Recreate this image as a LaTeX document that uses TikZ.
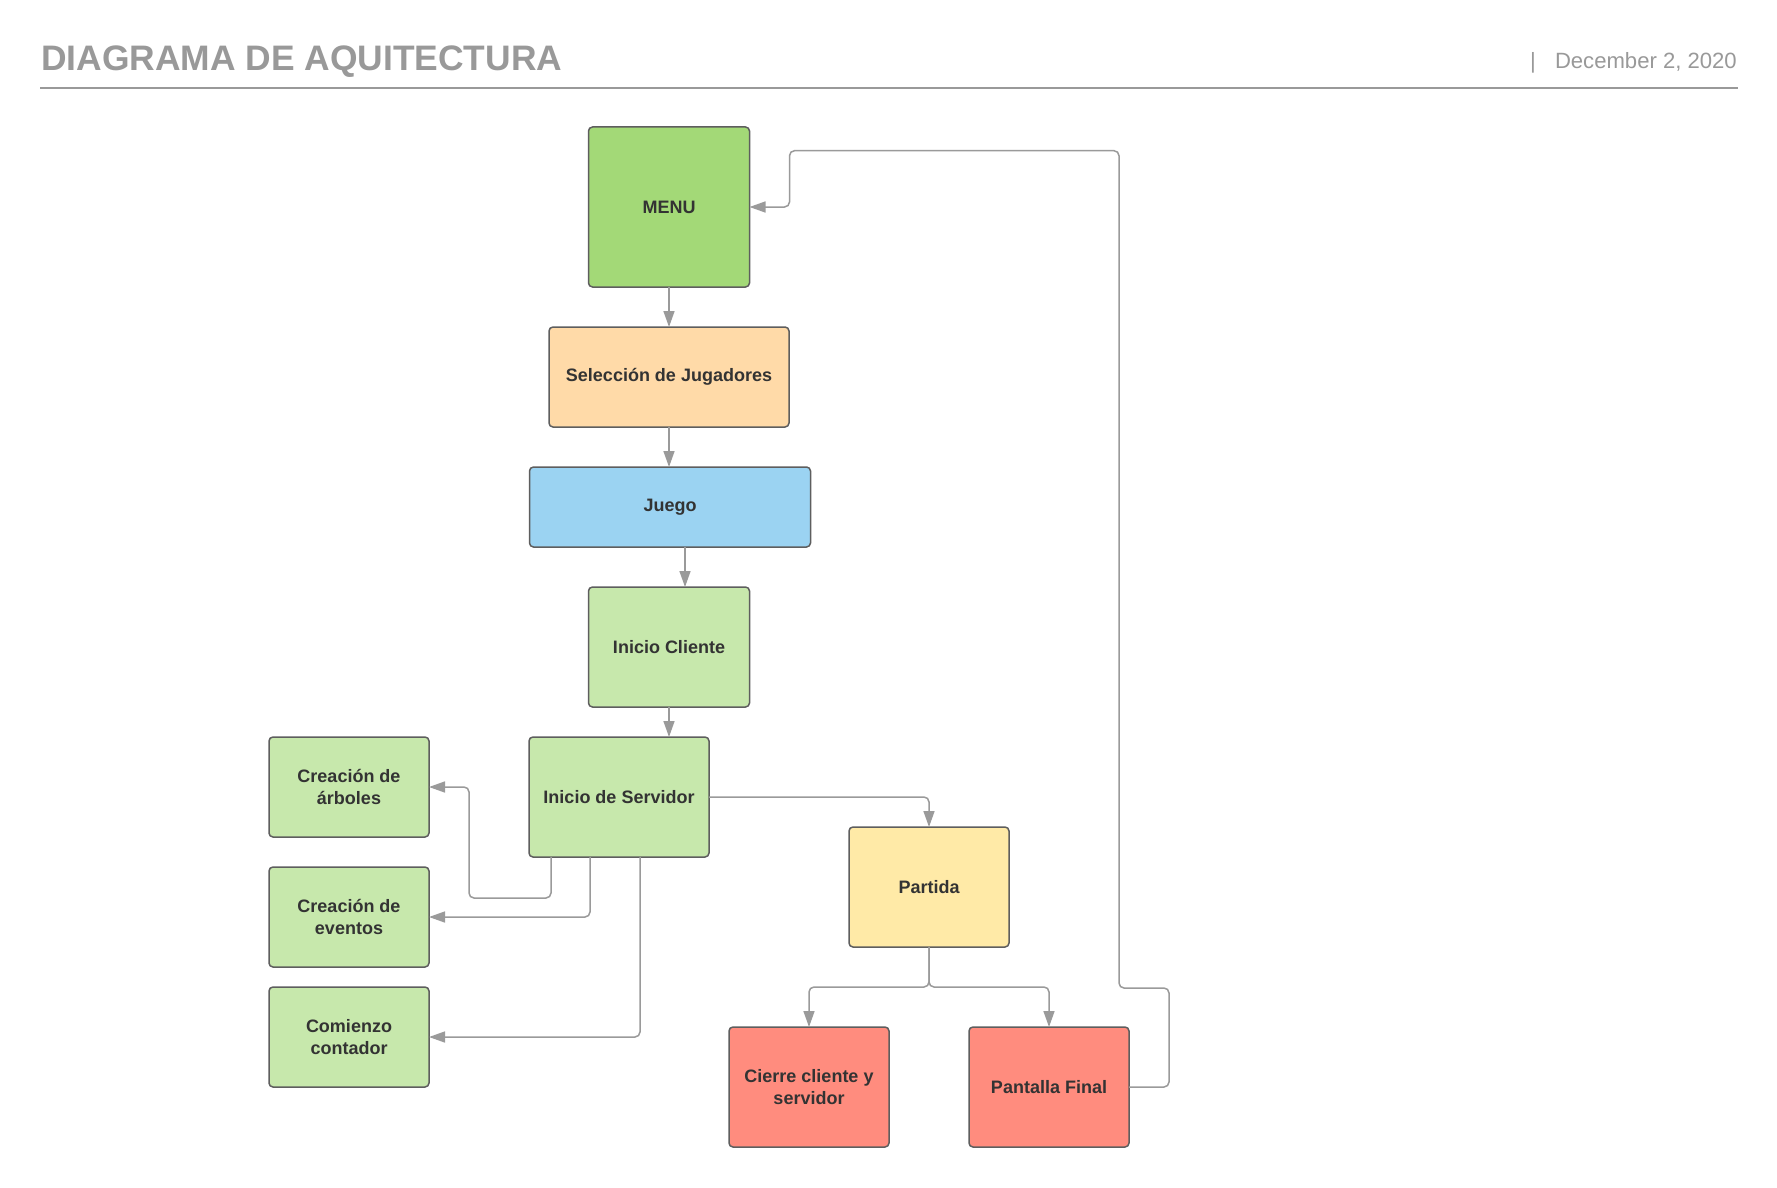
\documentclass[tikz,border=0pt]{standalone}
\usepackage{fontspec}
\setmainfont{Liberation Sans}
\usetikzlibrary{arrows.meta,calc}
\definecolor{boxborder}{HTML}{5E5E5E}
\definecolor{textdark}{HTML}{333333}
\definecolor{linegray}{HTML}{9A9A9A}
\definecolor{titlegray}{HTML}{999999}
\definecolor{menugreen}{HTML}{A3D977}
\definecolor{peach}{HTML}{FFDAA8}
\definecolor{skyblue}{HTML}{9BD3F2}
\definecolor{lightgreen}{HTML}{C7E8AC}
\definecolor{paleyellow}{HTML}{FFEAA7}
\definecolor{salmon}{HTML}{FF8C7E}
\begin{document}
\begin{tikzpicture}[x=1pt,y=-1pt,
  box/.style={draw=boxborder, line width=1.5pt, rounded corners=4pt, text=textdark,
    font=\fontsize{18}{21.7}\selectfont\bfseries, align=center, inner sep=2pt, outer sep=0pt},
  conn/.style={draw=linegray, line width=1.5pt, rounded corners=5pt,
    -{Triangle[length=16pt,width=11pt]}},
]
\useasboundingbox (0,0) rectangle (1777,1188);
\fill[white] (0,0) rectangle (1777,1188);

% header
\node[anchor=base west, inner sep=0pt, text=titlegray, font=\fontsize{35.4}{42}\selectfont\bfseries] (title) at (41,71) {DIAGRAMA DE AQUITECTURA};
\node[anchor=base east, inner sep=0pt, text=titlegray, font=\fontsize{22.1}{26}\selectfont] (date) at (1737,69) {December 2, 2020};
\node[anchor=base, inner sep=0pt, text=titlegray, font=\fontsize{22.1}{26}\selectfont] (sep) at (1533,69) {|};
\draw[draw=titlegray, line width=2pt] (40,88) -- (1738,88);

% boxes
\node[box, fill=menugreen, minimum width=161pt, minimum height=160pt] (menu) at (669,207) {MENU};
\node[box, fill=peach, minimum width=240pt, minimum height=100pt] (sel) at (669,377) {Selección de Jugadores};
\node[box, fill=skyblue, minimum width=281pt, minimum height=80pt] (juego) at (670,507) {Juego};
\node[box, fill=lightgreen, minimum width=161pt, minimum height=120pt] (cli) at (669,647) {Inicio Cliente};
\node[box, fill=lightgreen, minimum width=180pt, minimum height=120pt] (serv) at (619,797) {Inicio de Servidor};
\node[box, fill=lightgreen, minimum width=160pt, minimum height=100pt] (arb) at (349,787) {Creación de\\árboles};
\node[box, fill=lightgreen, minimum width=160pt, minimum height=100pt] (ev) at (349,917) {Creación de\\eventos};
\node[box, fill=lightgreen, minimum width=160pt, minimum height=100pt] (com) at (349,1037) {Comienzo\\contador};
\node[box, fill=paleyellow, minimum width=160pt, minimum height=120pt] (part) at (929,887) {Partida};
\node[box, fill=salmon, minimum width=160pt, minimum height=120pt] (cie) at (809,1087) {Cierre cliente y\\servidor};
\node[box, fill=salmon, minimum width=160pt, minimum height=120pt] (pan) at (1049,1087) {Pantalla Final};

% connectors
\draw[conn] (menu.south) -- (sel.north);
\draw[conn] (sel.south) -- (sel.south |- juego.north);
\coordinate (jc) at ($(juego.south)+(15,0)$);
\draw[conn] (jc) -- (jc |- cli.north);
\draw[conn] (cli.south) -- (cli.south |- serv.north);
\draw[conn] (serv.east) -| (part.north);
\coordinate (s1) at ($(serv.south)+(-68,0)$);
\coordinate (s2) at ($(serv.south)+(-29,0)$);
\coordinate (s3) at ($(serv.south)+(21,0)$);
\coordinate (bendA) at (469,898);
\draw[conn] (s1) |- (bendA) |- (arb.east);
\draw[conn] (s2) |- (ev.east);
\draw[conn] (s3) |- (com.east);
\coordinate (split) at ($(part.south)+(0,40)$);
\draw[conn] (part.south) -- (split) -| (cie.north);
\draw[conn] (part.south) -- (split) -| (pan.north);
\coordinate (r1) at (1169,988);
\coordinate (r2) at (1119,150.7);
\coordinate (r3) at ($(menu.east)+(40,0)$);
\draw[conn] (pan.east) -| (r1) -| (r2) -| (r3) -- (menu.east);
\end{tikzpicture}
\end{document}
